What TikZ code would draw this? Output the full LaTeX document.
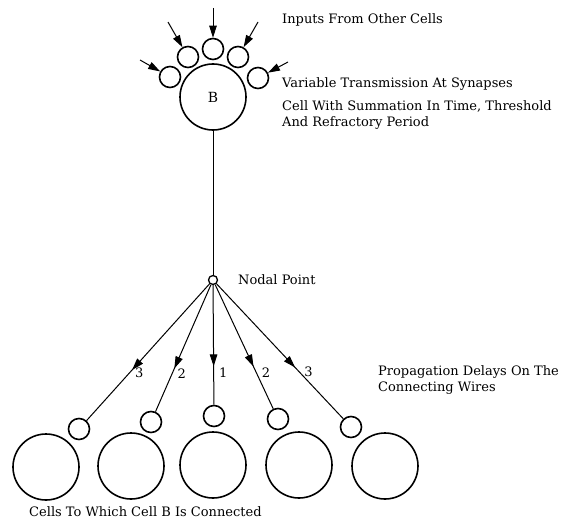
\documentclass[tikz,border=0pt]{standalone}
\usepackage{fontspec}
\setmainfont{DejaVu Serif}
\usetikzlibrary{arrows.meta,decorations.markings}
\begin{document}
\begin{tikzpicture}[x=1pt,y=-1pt,
	cell/.style={draw,circle,line width=1.6pt,minimum size=66pt,inner sep=0pt,font=\fontsize{14}{16}\selectfont},
	syn/.style={draw,circle,line width=1.6pt,minimum size=21pt,inner sep=0pt},
	lbl/.style={anchor=west,inner sep=0pt,font=\fontsize{13}{16}\selectfont},
	num/.style={anchor=west,inner sep=0pt,xshift=5pt,font=\fontsize{13}{16}\selectfont},
	wire/.style={line width=1pt},
	inarrow/.style={wire,-{Triangle[length=12pt,width=7.5pt]}},
	delay/.style={wire,postaction={decorate},decoration={markings,mark=at position #1 with {\arrow{Triangle[length=12pt,width=7.5pt]}}}}]
		\useasboundingbox (0,0) rectangle (562,519);
		\node[cell] (B) at (213,97) {B};
		\node[syn] (s1) at (170,77) {};
		\node[syn] (s2) at (188,57) {};
		\node[syn] (s3) at (213,49) {};
		\node[syn] (s4) at (238,57) {};
		\node[syn] (s5) at (258,78) {};
		\coordinate (t1) at (140,60);
		\coordinate (t2) at (168,22);
		\coordinate (t3) at (213,8);
		\coordinate (t4) at (258,22);
		\coordinate (t5) at (288,62);
		\draw[inarrow] (t1) -- (s1);
		\draw[inarrow] (t2) -- (s2);
		\draw[inarrow] (t3) -- (s3);
		\draw[inarrow] (t4) -- (s4);
		\draw[inarrow] (t5) -- (s5);
		\node[lbl] (inputs) at (282,20) {Inputs From Other Cells};
		\node[lbl] (synapses) at (282,84) {Variable Transmission At Synapses};
		\node[lbl,align=left,anchor=north west] (summation) at (282,100) {Cell With Summation In Time, Threshold\\And Refractory Period};
		\node[draw,circle,line width=1.3pt,minimum size=9pt,inner sep=0pt] (nodal) at (213,280) {};
		\draw[wire] (B) -- (nodal);
		\node[lbl] (nodaltxt) at (238,280) {Nodal Point};
		\node[syn] (d1) at (79,429) {};
		\node[syn] (d2) at (151,422) {};
		\node[syn] (d3) at (214,416) {};
		\node[syn] (d4) at (278,419) {};
		\node[syn] (d5) at (351,427) {};
		\draw[delay=0.63] (nodal) -- node[num,pos=0.65] {3} (d1);
		\draw[delay=0.66] (nodal) -- node[num,pos=0.70] {2} (d2);
		\draw[delay=0.68] (nodal) -- node[num,pos=0.735] {1} (d3);
		\draw[delay=0.66] (nodal) -- node[num,pos=0.71] {2} (d4);
		\draw[delay=0.62] (nodal) -- node[num,pos=0.65] {3} (d5);
		\node[lbl,align=left,anchor=north west] (delays) at (378,365) {Propagation Delays On The\\Connecting Wires};
		\node[cell] (c1) at (46,467) {};
		\node[cell] (c2) at (131,466) {};
		\node[cell] (c3) at (213,465) {};
		\node[cell] (c4) at (299,465) {};
		\node[cell] (c5) at (385,466) {};
		\node[lbl] (targets) at (29,512) {Cells To Which Cell B Is Connected};
	\end{tikzpicture}
\end{document}
